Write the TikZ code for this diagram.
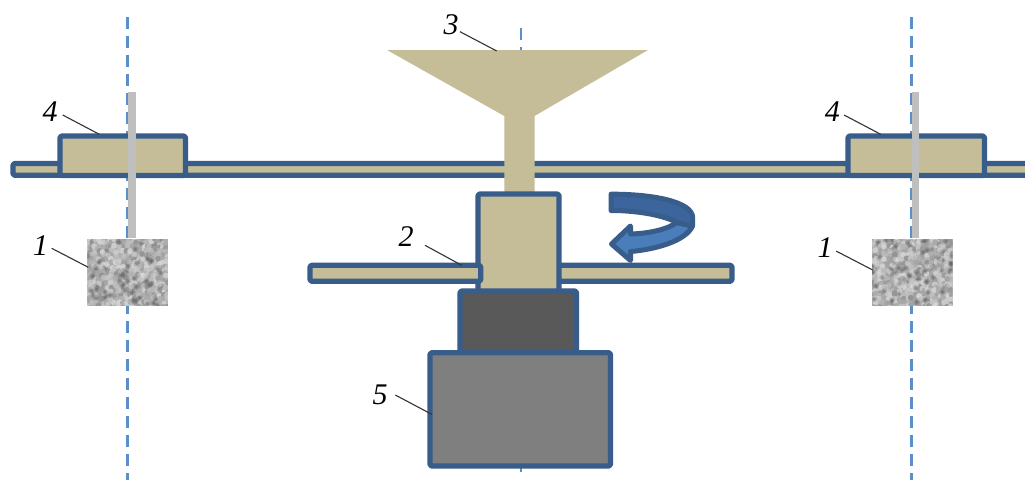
\documentclass[tikz,border=0pt]{standalone}
\usepackage{fontspec}
\setmainfont{Liberation Serif}
\definecolor{tan}{HTML}{C4BD97}
\definecolor{edge}{HTML}{385D8A}
\definecolor{axis}{HTML}{5A8FCB}
\definecolor{rod}{HTML}{BFBFBF}
\definecolor{motor}{HTML}{595959}
\definecolor{base}{HTML}{7F7F7F}
\definecolor{arrowdark}{HTML}{3B659C}
\definecolor{arrowlight}{HTML}{4A7EBB}
\tikzset{
  axisline/.style={draw=axis,line width=2.4,dash pattern=on 12pt off 7pt},
  part/.style={draw=edge,line width=5.2,rounded corners=1.5,line join=round,inner sep=0,outer sep=0,anchor=north west},
  tanpart/.style={part,fill=tan},
  leader/.style={draw=black!80,line width=1.1},
  num/.style={font=\itshape\fontsize{30}{30}\selectfont,inner sep=0pt,text=black},
  samplebox/.style={inner sep=0,outer sep=0,minimum width=80.5,minimum height=66.5,anchor=north west},
}
\pgfmathsetseed{4711}
\newcommand{\grainbox}[2]{%
  \begin{scope}
    \clip (#1,#2) rectangle ++(80.5,66.5);
    \fill[black!32] (#1,#2) rectangle ++(80.5,66.5);
    \foreach \i in {0,...,20}{\foreach \j in {0,...,17}{%
      \pgfmathsetmacro{\g}{int(18+random(0,24))}%
      \pgfmathsetmacro{\rx}{rand*1.5}%
      \pgfmathsetmacro{\ry}{rand*1.5}%
      \fill[black!\g] ({#1+\i*4+\rx},{#2+\j*4+\ry}) circle[radius=3];
    }}
    \foreach \k in {1,...,55}{%
      \pgfmathsetmacro{\rx}{random(0,80)}%
      \pgfmathsetmacro{\ry}{random(0,66)}%
      \fill[black!60,opacity=.28] ({#1+\rx},{#2+\ry}) circle[radius=3];
      \fill[black!65,opacity=.4] ({#1+\rx},{#2+\ry}) circle[radius=1.8];
    }
    \foreach \k in {1,...,55}{%
      \pgfmathsetmacro{\rx}{random(0,80)}%
      \pgfmathsetmacro{\ry}{random(0,66)}%
      \fill[black!10,opacity=.3] ({#1+\rx},{#2+\ry}) circle[radius=2.6];
    }
  \end{scope}}
\begin{document}
\begin{tikzpicture}[x=1pt,y=-1pt]
\useasboundingbox (0,0) rectangle (1025,480);
\fill[white] (0,0) rectangle (1025,480);
% axes
\coordinate (axLtop) at (127.3,17);  \coordinate (axLbot) at (127.3,480);
\coordinate (axRtop) at (911.6,17);  \coordinate (axRbot) at (911.6,480);
\coordinate (axCtop) at (520.7,28);  \coordinate (axCbot) at (520.7,472);
\draw[axisline] (axLtop) -- (axLbot);
\draw[axisline] (axRtop) -- (axRbot);
\draw[axisline] (axCtop) -- (axCbot);
% rail and carriages
\draw[part,fill=tan] (13,163.5) rectangle (1032,175.3);
\node[tanpart,minimum width=125.5,minimum height=39.5] (block4L) at (60,136) {};
\node[tanpart,minimum width=136.5,minimum height=39.5] (block4R) at (848,136) {};
% funnel
\fill[tan] (387,50) -- (648,50) -- (534.5,116) -- (534.5,195) -- (504.3,195) -- (504.3,116) -- cycle;
% rods
\fill[rod] (127.7,92) rectangle (135.7,238);
\fill[rod] (911.7,92) rectangle (919.4,238);
% samples
\grainbox{87.3}{239.2}
\grainbox{872}{239.2}
\node[samplebox] (sampleL) at (87.3,239.2) {};
\node[samplebox] (sampleR) at (872,239.2) {};
% disc, right part behind the hub
\node[tanpart,minimum width=251,minimum height=16] (discR) at (481,265.3) {};
% spindle housing
\node[tanpart,minimum width=81,minimum height=100] (hub) at (478,194) {};
% disc, left part over the hub edge
\node[tanpart,minimum width=170.7,minimum height=16] (discL) at (310,265.3) {};
% motor
\node[part,fill=motor,minimum width=116.5,minimum height=64] (motorbox) at (460,291) {};
\node[part,fill=base,minimum width=180.5,minimum height=113.3] (basebox) at (430,352.7) {};
% rotation arrow
\fill[arrowlight,draw=edge,line width=5,line join=round]
  (692.5,226) .. controls (686,241) and (655,249.5) .. (630.5,251.5)
  -- (630.5,260.5) -- (611.5,244) -- (630.5,226) -- (630.5,234)
  .. controls (650,233.5) and (668,229) .. (677,222.5) -- cycle;
\fill[arrowdark,draw=edge,line width=5,line join=round]
  (611,194.2) .. controls (650,194) and (693,201) .. (692.7,218)
  -- (692.5,226) -- (677,222.5) .. controls (665,216) and (640,210.5) .. (611,210.5) -- cycle;
% labels and leaders
\node[num] (n1L) at (40.7,246) {1};
\node[num] (n1R) at (825,248) {1};
\node[num] (n2) at (406,237) {2};
\node[num] (n3) at (451,25) {3};
\node[num] (n4L) at (50,112) {4};
\node[num] (n4R) at (832.3,112) {4};
\node[num] (n5) at (380,395) {5};
\coordinate (l1La) at (51.7,248.3);  \coordinate (l1Lb) at (88.3,267.3);
\coordinate (l1Ra) at (836,251);     \coordinate (l1Rb) at (872.7,270);
\coordinate (l2a) at (425,245.3);    \coordinate (l2b) at (461.7,265.3);
\coordinate (l3a) at (460,31.7);     \coordinate (l3b) at (496.7,51);
\coordinate (l4La) at (62.7,115);    \coordinate (l4Lb) at (99.3,134.3);
\coordinate (l4Ra) at (844,115);     \coordinate (l4Rb) at (880.7,134.3);
\coordinate (l5a) at (395.3,395);    \coordinate (l5b) at (431.7,414.3);
\draw[leader] (l1La) -- (l1Lb);
\draw[leader] (l1Ra) -- (l1Rb);
\draw[leader] (l2a) -- (l2b);
\draw[leader] (l3a) -- (l3b);
\draw[leader] (l4La) -- (l4Lb);
\draw[leader] (l4Ra) -- (l4Rb);
\draw[leader] (l5a) -- (l5b);
\end{tikzpicture}
\end{document}
